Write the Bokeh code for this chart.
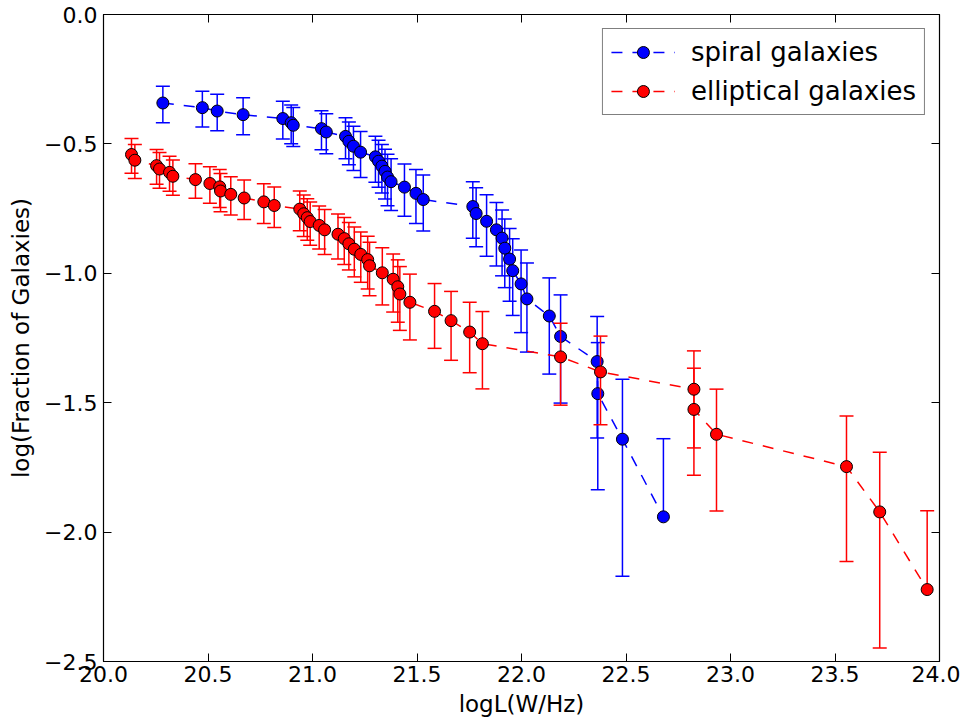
import numpy as np
from bokeh.plotting import figure
from bokeh.models import (Range1d, FixedTicker, LinearAxis, Legend, LegendItem,
                          CustomJSTickFormatter)
from bokeh.embed import file_html
from bokeh.resources import INLINE

# ---- data (log luminosity, log fraction, linear-fraction 1-sigma error) ----
spiral_x = [20.284, 20.473, 20.544, 20.668, 20.858, 20.898, 20.908, 21.043, 21.066, 21.158,
            21.174, 21.196, 21.230, 21.301, 21.316, 21.332, 21.347, 21.359, 21.376, 21.440,
            21.495, 21.530, 21.767, 21.783, 21.833, 21.880, 21.907, 21.920, 21.943, 21.958,
            21.998, 22.026, 22.133, 22.187, 22.362, 22.365, 22.483, 22.679]
spiral_y = [-0.342, -0.360, -0.373, -0.387, -0.402, -0.418, -0.428, -0.441, -0.454, -0.471,
            -0.490, -0.509, -0.532, -0.550, -0.567, -0.586, -0.606, -0.628, -0.646, -0.667,
            -0.691, -0.715, -0.742, -0.769, -0.799, -0.832, -0.864, -0.903, -0.945, -0.990,
            -1.041, -1.099, -1.165, -1.244, -1.341, -1.465, -1.641, -1.941]
spiral_err = [0.073, 0.069, 0.068, 0.067, 0.066, 0.065, 0.064, 0.062, 0.062, 0.061,
              0.061, 0.060, 0.059, 0.057, 0.056, 0.055, 0.054, 0.053, 0.051, 0.049,
              0.048, 0.047, 0.0445, 0.0437, 0.0425, 0.0405, 0.039, 0.037, 0.0355, 0.0336,
              0.032, 0.030, 0.0276, 0.0255, 0.0225, 0.0197, 0.0161, 0.0115]

ellip_x = [20.134, 20.150, 20.254, 20.268, 20.316, 20.332, 20.440, 20.509, 20.556, 20.560,
           20.609, 20.673, 20.767, 20.817, 20.939, 20.958, 20.975, 20.989, 21.032, 21.058,
           21.122, 21.152, 21.174, 21.200, 21.231, 21.264, 21.273, 21.334, 21.386, 21.408,
           21.418, 21.466, 21.584, 21.663, 21.752, 21.813, 22.187, 22.378, 22.825, 22.825,
           22.933, 23.555, 23.714, 23.941]
ellip_y = [-0.541, -0.563, -0.584, -0.597, -0.610, -0.625, -0.638, -0.653, -0.666, -0.682,
           -0.695, -0.709, -0.724, -0.738, -0.752, -0.770, -0.785, -0.800, -0.815, -0.832,
           -0.849, -0.866, -0.886, -0.907, -0.927, -0.947, -0.971, -0.998, -1.023, -1.052,
           -1.080, -1.112, -1.147, -1.183, -1.227, -1.272, -1.323, -1.381, -1.448, -1.526,
           -1.622, -1.747, -1.922, -2.222]
ellip_err = [0.044, 0.041, 0.040, 0.040, 0.038, 0.037, 0.035, 0.036, 0.036, 0.035,
             0.034, 0.034, 0.033, 0.0325, 0.031, 0.031, 0.030, 0.030, 0.029, 0.029,
             0.028, 0.028, 0.027, 0.027, 0.026, 0.026, 0.025, 0.025, 0.024, 0.024,
             0.023, 0.022, 0.020, 0.0195, 0.018, 0.0177, 0.0166, 0.0156, 0.0145, 0.0132,
             0.0118, 0.0102, 0.0084, 0.0061]

x_ticks = [20.0, 20.5, 21.0, 21.5, 22.0, 22.5, 23.0, 23.5, 24.0]
y_ticks = [-2.5, -2.0, -1.5, -1.0, -0.5, 0.0]

FONT = "DejaVu Sans"

p = figure(width=960, height=719, x_range=Range1d(20, 24), y_range=Range1d(-2.5, 0),
           output_backend="svg", toolbar_location=None,
           min_border_left=103, min_border_right=21, min_border_top=14, min_border_bottom=57)
p.xgrid.visible = False
p.ygrid.visible = False
p.outline_line_color = "black"
p.outline_line_width = 1.2
p.background_fill_color = "white"
p.border_fill_color = "white"

fmt = CustomJSTickFormatter(code="return tick.toFixed(1).replace('-', '\\u2212');")

for ax in (p.xaxis[0], p.yaxis[0]):
    ax.major_tick_in = 8
    ax.major_tick_out = 0
    ax.minor_tick_in = 0
    ax.minor_tick_out = 0
    ax.axis_line_color = "black"
    ax.major_tick_line_color = "black"
    ax.major_label_text_font = FONT
    ax.major_label_text_font_size = "22px"
    ax.major_label_text_color = "black"
    ax.axis_label_text_font = FONT
    ax.axis_label_text_font_size = "23px"
    ax.axis_label_text_font_style = "normal"
    ax.axis_label_text_color = "black"
    ax.formatter = fmt

p.xaxis[0].ticker = FixedTicker(ticks=x_ticks)
p.yaxis[0].ticker = FixedTicker(ticks=y_ticks)
p.xaxis[0].axis_label = "logL(W/Hz)"
p.yaxis[0].axis_label = "log(Fraction of Galaxies)"
p.xaxis[0].major_label_standoff = 4
p.xaxis[0].axis_label_standoff = 6
p.yaxis[0].major_label_standoff = 6
p.yaxis[0].axis_label_standoff = 7

for loc, ticks in (("above", x_ticks), ("right", y_ticks)):
    ax = LinearAxis(ticker=FixedTicker(ticks=ticks))
    ax.major_tick_in = 8
    ax.major_tick_out = 0
    ax.minor_tick_in = 0
    ax.minor_tick_out = 0
    ax.major_label_text_font_size = "1px"
    ax.major_label_text_color = None
    ax.major_label_standoff = 0
    ax.axis_line_color = "black"
    p.add_layout(ax, loc)


def add_series(xs, ys, errs, color):
    xs = np.array(xs, float)
    ys = np.array(ys, float)
    errs = np.array(errs, float)
    f = 10.0 ** ys
    hi = np.log10(f + errs)
    valid = (f - errs) > 0
    lo = np.where(valid, np.log10(np.where(valid, f - errs, 1.0)), ys)
    p.segment(x0=xs, y0=lo, x1=xs, y1=hi, line_color=color, line_width=1.5)
    cx = np.concatenate([xs, xs[valid]])
    cy = np.concatenate([hi, lo[valid]])
    p.scatter(x=cx, y=cy, marker="dash", size=14, line_color=color, line_width=1.5)
    ln = p.line(xs, ys, line_color=color, line_width=1.5, line_dash="11 10")
    sc = p.scatter(xs, ys, size=12, fill_color=color, line_color="black", line_width=1)
    return ln, sc


b_line, b_sc = add_series(spiral_x, spiral_y, spiral_err, "#0000ff")
r_line, r_sc = add_series(ellip_x, ellip_y, ellip_err, "#ff0000")

legend = Legend(items=[LegendItem(label="spiral galaxies", renderers=[b_line, b_sc]),
                       LegendItem(label="elliptical galaxies", renderers=[r_line, r_sc])],
                location="top_right")
legend.label_text_font = FONT
legend.label_text_font_size = "26px"
legend.label_text_color = "black"
legend.glyph_width = 64
legend.glyph_height = 30
legend.label_standoff = 16
legend.padding = 8
legend.spacing = 9
legend.margin = 14
legend.border_line_color = "black"
legend.border_line_width = 1.2
legend.background_fill_alpha = 1.0
p.add_layout(legend)

with open("out.html", "w", encoding="utf-8") as fh:
    fh.write(file_html(p, INLINE))
